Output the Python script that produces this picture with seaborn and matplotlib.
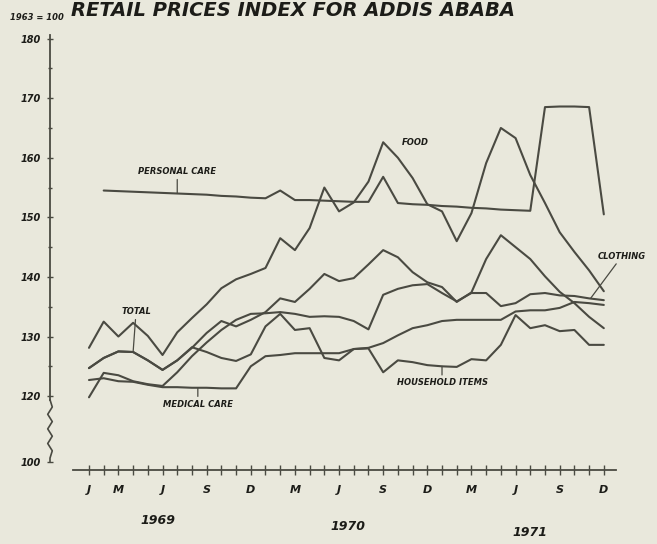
import numpy as np
import pandas as pd
import matplotlib
matplotlib.use("Agg")
import matplotlib.pyplot as plt
import seaborn as sns

# Retail price index for Addis Ababa (1963 = 100), monthly, Jan 1969 - Dec 1971
months = list(range(36))

food = [128.1, 132.5, 130.0, 132.3, 130.1, 126.9, 130.7, 133.1, 135.4, 138.1, 139.6, 140.5,
        141.5, 146.5, 144.5, 148.2, 155.0, 151.0, 152.5, 156.0, 162.6, 160.0, 156.6, 152.2,
        151.0, 146.0, 150.7, 159.1, 165.0, 163.3, 157.1, 152.4, 147.5, 144.2, 141.1, 137.6]

personal_care = [np.nan, 154.5, 154.4, 154.3, 154.2, 154.1, 154.0, 153.9, 153.8, 153.6, 153.5, 153.3,
                 153.2, 154.5, 152.9, 152.9, 152.8, 152.7, 152.6, 152.6, 156.8, 152.4, 152.2, 152.1,
                 151.9, 151.8, 151.6, 151.5, 151.3, 151.2, 151.1, 168.5, 168.6, 168.6, 168.5, 150.5]

total = [124.7, 126.4, 127.5, 127.4, 126.0, 124.4, 126.0, 128.1, 130.6, 132.6, 131.7, 132.8,
         134.1, 136.4, 135.8, 138.0, 140.5, 139.3, 139.8, 142.1, 144.5, 143.3, 140.8, 139.1,
         138.3, 135.8, 137.4, 143.0, 147.0, 145.0, 143.0, 140.1, 137.5, 135.6, 133.3, 131.4]

clothing = [119.8, 123.9, 123.5, 122.5, 122.0, 121.7, 124.0, 126.7, 129.0, 131.1, 132.8, 133.8,
            133.9, 134.1, 133.8, 133.3, 133.4, 133.3, 132.6, 131.2, 137.0, 138.0, 138.6, 138.8,
            137.3, 135.9, 137.3, 137.3, 135.1, 135.6, 137.1, 137.3, 136.9, 136.8, 136.4, 136.1]

household_items = [124.7, 126.4, 127.5, 127.4, 126.0, 124.4, 126.0, 128.2, 127.4, 126.4, 125.9, 127.0,
                   131.7, 133.8, 131.1, 131.4, 126.4, 126.0, 127.9, 128.0, 124.0, 126.0, 125.7, 125.2,
                   125.0, 124.9, 126.2, 126.0, 128.6, 133.6, 131.4, 131.9, 130.9, 131.1, 128.6, 128.6]

medical_care = [122.7, 123.0, 122.5, 122.4, 121.9, 121.5, 121.5, 121.4, 121.4, 121.3, 121.3, 125.0,
                126.7, 126.9, 127.2, 127.2, 127.2, 127.2, 127.9, 128.1, 128.9, 130.2, 131.4, 131.9,
                132.6, 132.8, 132.8, 132.8, 132.8, 134.2, 134.4, 134.4, 134.8, 135.8, 135.6, 135.3]

month_ticks = [0, 2, 5, 8, 11, 14, 17, 20, 23, 26, 29, 32, 35]
month_labels = ["J", "M", "J", "S", "D", "M", "J", "S", "D", "M", "J", "S", "D"]
year_labels = ["1969", "1970", "1971"]
y_ticks = [120, 130, 140, 150, 160, 170, 180]

sns.set_style("white")
plt.rcParams['font.family'] = ['Liberation Sans Narrow', 'DejaVu Sans']

PAPER = "#e9e8dc"
INK = "#4a4a42"
TEXT = "#1c1c18"
BREAK = 108.9   # where the "100" of the broken axis sits

series = {
    "Food": food,
    "Personal care": personal_care,
    "Total": total,
    "Clothing": clothing,
    "Household items": household_items,
    "Medical care": medical_care,
}
frames = [pd.DataFrame({"month": months, "index": vals, "series": name})
          for name, vals in series.items()]
df = pd.concat(frames, ignore_index=True).dropna()

fig = plt.figure(figsize=(6.57, 5.44), dpi=100, facecolor=PAPER)
ax = fig.add_axes([50 / 657, 74 / 544, 570 / 657, 435 / 544])
ax.set_facecolor(PAPER)

sns.lineplot(data=df, x="month", y="index", hue="series", palette=[INK] * len(series),
             legend=False, linewidth=1.5, estimator=None, sort=False, ax=ax)

ax.set_xlim(-2.65, 36.1)
ax.set_ylim(107.6, 180.6)
ax.set_xlabel("")
ax.set_ylabel("")

# axes styling: broken y axis, free-floating time axis
for side in ["top", "right"]:
    ax.spines[side].set_visible(False)
ax.spines["left"].set_bounds(119.4, 180.6)
ax.spines["left"].set_color(INK)
ax.spines["left"].set_linewidth(1.3)
ax.spines["bottom"].set_bounds(-1.1, 35.8)
ax.spines["bottom"].set_color(INK)
ax.spines["bottom"].set_linewidth(1.3)

zz_y = np.linspace(119.4, 109.6, 9)
zz_x = np.array([0, 1, -1, 1, -1, 1, -1, 1, 0]) * 0.004
ax.plot(np.append(zz_x, 0), np.append(zz_y, BREAK), color=INK, lw=1.2,
        transform=ax.get_yaxis_transform(), clip_on=False)

ax.set_yticks([BREAK] + y_ticks, ["100"] + [str(v) for v in y_ticks])
ax.set_yticks([125, 135, 145, 155, 165, 175], minor=True)
ax.tick_params(axis="y", which="both", direction="inout", length=5, width=1,
               color=INK, labelcolor=TEXT, labelsize=7, pad=4, left=True)
ax.tick_params(axis="y", which="minor", length=3)

ax.set_xticks(months, minor=True)
ax.set_xticks(month_ticks, month_labels)
ax.tick_params(axis="x", which="both", direction="inout", length=7, width=1,
               color=INK, labelcolor=TEXT, labelsize=8, pad=7, bottom=True)
for lab in ax.get_xticklabels() + ax.get_yticklabels():
    lab.set_fontweight("bold")
    lab.set_fontstyle("italic")

lab_kw = dict(fontsize=6, fontweight="bold", fontstyle="italic", color=TEXT)
line_kw = dict(arrowstyle="-", color=INK, lw=0.9, shrinkA=0, shrinkB=0)

ax.annotate("PERSONAL CARE", xy=(6, personal_care[6]), xytext=(6, 156.9),
            ha="center", va="bottom", arrowprops=line_kw, **lab_kw)
ax.annotate("TOTAL", xy=(3, total[3]), xytext=(3.2, 133.4),
            ha="center", va="bottom", arrowprops=line_kw, **lab_kw)
ax.annotate("MEDICAL CARE", xy=(7.4, medical_care[7]), xytext=(7.4, 119.4),
            ha="center", va="top", arrowprops=line_kw, **lab_kw)
ax.annotate("HOUSEHOLD ITEMS", xy=(24.0, household_items[24]), xytext=(24.0, 123.0),
            ha="center", va="top", arrowprops=line_kw, **lab_kw)
ax.annotate("CLOTHING", xy=(34.1, clothing[34]), xytext=(34.6, 143.5),
            ha="left", va="center", arrowprops=line_kw, **lab_kw)
ax.text(21.3, 162.6, "FOOD", ha="left", va="center", **lab_kw)

# years under the month letters
for txt, xm, ypx in zip(year_labels, [4.7, 17.6, 30.0], [520, 527, 533]):
    fig.text((89 + 14.7 * xm) / 657, 1 - ypx / 544, txt, ha="center", va="center",
             fontsize=9, fontweight="bold", fontstyle="italic", color=TEXT)

fig.text(37 / 657, 1 - 17 / 544, "1963 = 100", ha="center", va="center",
         fontsize=6, fontweight="bold", fontstyle="italic", color=TEXT)
fig.text(515 / 657, 1 - 16 / 544, "RETAIL PRICES INDEX FOR ADDIS ABABA",
         ha="right", va="baseline", fontsize=14, fontweight="bold", fontstyle="italic",
         color=TEXT)

fig.savefig("out.png", dpi=100, facecolor=PAPER)
